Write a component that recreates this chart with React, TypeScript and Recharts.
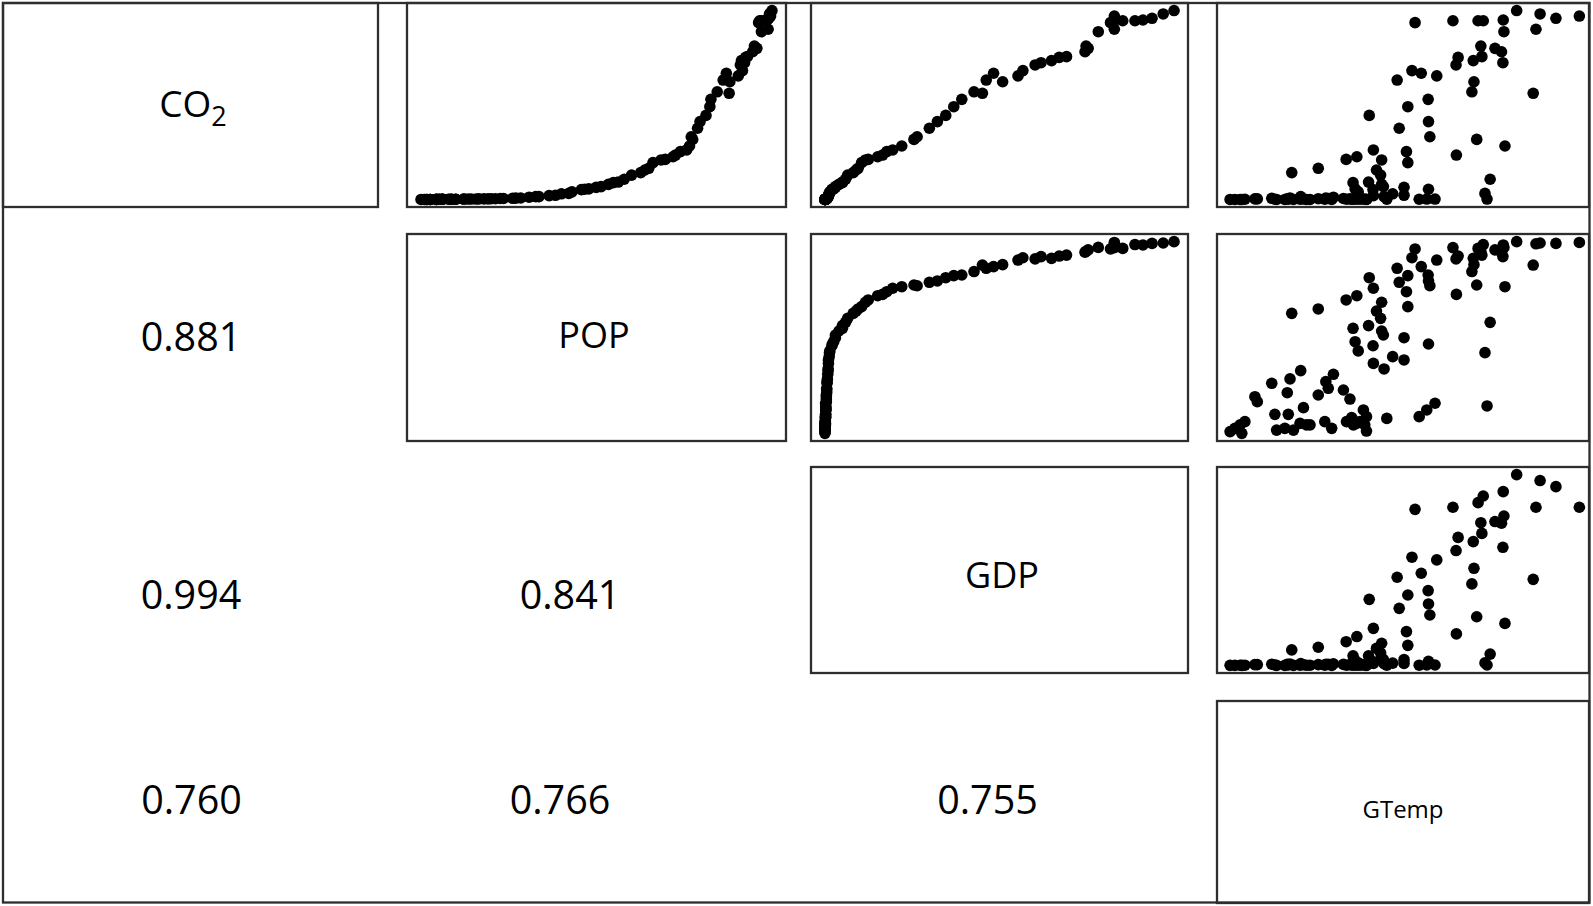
import React from 'react';
import { ScatterChart, Scatter, XAxis, YAxis } from 'recharts';

// each variable scaled 0-100 (its min to its max), observations ordered by POP
const pop = [
  0, 0.9, 1.2, 1.7, 1.7, 2.6, 2.6, 2.6, 4.4, 4.4,
  4.4, 4.4, 4.4, 5.2, 5.2, 6.1, 6.1, 6.1, 6.1, 7.8,
  8.2, 8.7, 8.7, 9.9, 9.9, 12.2, 12.2, 13.4, 14.3, 15.7,
  16.5, 17.9, 19.1, 20.0, 21.2, 22.6, 23.5, 26.1, 27.0, 28.4,
  30.8, 32.7, 33.6, 36.5, 38.3, 40.0, 42.1, 43.0, 45.7, 46.6,
  47.8, 49.9, 51.3, 53.4, 54.8, 56.2, 57.9, 60.0, 62.6, 63.8,
  64.9, 66.1, 68.4, 69.6, 71.8, 72.5, 73.9, 75.7, 76.5, 77.0,
  77.4, 78.8, 79.5, 81.2, 82.3, 82.6, 84.4, 86.1, 87.0, 87.8,
  88.0, 90.4, 91.0, 91.3, 91.6, 92.2, 92.5, 93.0, 94.5, 95.0,
  95.7, 96.2, 96.5, 96.9, 97.0, 98.3, 98.5, 98.9, 99.1, 99.3,
  99.6, 100,
];

const gtemp = [
  3.2, -0.2, 39.4, 13.3, 18.2, 1.2, 15.7, 29.3, 2.7, 22.0,
  23.0, 38.9, 35.6, 20.1, 36.5, 4.1, 27.3, 33.6, 37.5, 45.3,
  35.1, 54.7, 39.4, 12.8, 16.7, 56.9, 38.5, 21.1, 74.4, 59.3,
  7.7, 34.6, 7.0, 25.4, 16.4, 32.7, 28.3, 11.9, 27.6, 17.2,
  29.8, 20.3, 44.5, 41.4, 50.3, 47.0, 73.8, 37.0, 41.3, 57.4,
  36.1, 50.3, 44.3, 43.8, 35.5, 40.0, 75.3, 43.5, 17.7, 42.3,
  25.4, 51.4, 43.8, 33.5, 36.6, 65.5, 51.0, 41.4, 79.6, 57.8,
  71.4, 48.9, 57.4, 40.2, 51.4, 57.3, 70.0, 48.3, 55.3, 87.8,
  70.6, 59.8, 65.4, 70.4, 52.6, 79.0, 66.0, 72.9, 78.6, 72.6,
  76.7, 53.5, 71.8, 64.5, 79.3, 79.1, 73.3, 88.6, 94.4, 89.8,
  101.2, 83.0,
];

const co2 = [
  0, 0, 0, 0, 0, 0, 0, 0, 0, 0,
  0, 0.1, 0.1, 0.1, 0.1, 0.1, 0.1, 0.1, 0.1, 0.1,
  0.1, 0.1, 0.1, 0.1, 0.1, 0.2, 0.2, 0.2, 0.2, 0.2,
  0.3, 0.3, 0.3, 0.4, 0.4, 0.5, 0.5, 0.6, 0.7, 0.8,
  1.2, 1.5, 1.5, 2.0, 2.2, 3.0, 3.2, 4.0, 5.2, 5.4,
  5.6, 6.4, 6.8, 8.0, 8.9, 9.2, 10.7, 12.9, 14.2, 15.6,
  16.5, 19.5, 20.9, 21.2, 22.6, 23.5, 25.3, 26.2, 28.3, 33.2,
  31.8, 37.7, 41.2, 44.5, 49.1, 53.0, 57.0, 63.2, 66.8, 56.2,
  62.3, 65.4, 71.2, 73.5, 68.2, 72.4, 75.2, 75.6, 78.2, 81.2,
  80.0, 93.6, 94.6, 94.6, 88.8, 95.0, 94.6, 90.1, 95.9, 98.2,
  97.1, 100,
];

const gdp = [
  0, 0, 0, 0, 0, 0, 0, 0, 0.1, 0.1,
  0.1, 0.1, 0.1, 0.1, 0.1, 0.1, 0.1, 0.1, 0.1, 0.1,
  0.2, 0.1, 0.2, 0.2, 0.2, 0.2, 0.3, 0.3, 0.2, 0.2,
  0.4, 0.4, 0.4, 0.4, 0.5, 0.5, 0.5, 0.6, 0.6, 0.7,
  0.8, 0.9, 0.9, 1.0, 1.0, 1.2, 1.3, 1.4, 2.0, 2.1,
  2.5, 3.0, 3.0, 4.0, 5.0, 5.0, 5.9, 6.5, 8.1, 8.9,
  9.5, 10.5, 11.6, 12.4, 15.1, 16.5, 17.7, 19.4, 22.0, 26.4,
  25.5, 29.9, 32.2, 34.6, 36.9, 39.2, 42.7, 46.2, 48.3, 45.1,
  50.9, 55.3, 60.2, 64.9, 56.7, 61.9, 67.1, 69.2, 74.5, 74.8,
  75.4, 81.8, 85.3, 82.9, 78.3, 91.1, 88.8, 82.9, 93.7, 96.9,
  82.9, 100,
];

const variables = [co2, pop, gdp, gtemp];

// correlations shown in the lower triangle: [row, col, text]
const correlations: [number, number, string][] = [
  [1, 0, '0.881'],
  [2, 0, '0.994'],
  [2, 1, '0.841'],
  [3, 0, '0.760'],
  [3, 1, '0.766'],
  [3, 2, '0.755'],
];

// panel edges in page pixels
const COLS = [[3, 378], [407, 786], [811, 1188], [1217, 1589]];
const ROWS = [[3, 207], [234, 441], [467, 673], [701, 903]];
const DOMAIN: [number, number] = [-4, 104];
const LINE = '#2e2e2e';
const FONT = "'Open Sans', sans-serif";

// where the correlation numbers sit (text centre x, baseline y)
const corrPos: Record<string, [number, number]> = {
  '1-0': [191, 351],
  '2-0': [191, 609],
  '2-1': [570, 609],
  '3-0': [191.5, 814],
  '3-1': [560, 814],
  '3-2': [987.5, 814],
};

const Dot = (props: any) => <circle cx={props.cx} cy={props.cy} r={5.8} fill="#000" />;

function Panel({ row, col }: { row: number; col: number }) {
  const [left, right] = COLS[col];
  const [top, bottom] = ROWS[row];
  const w = right - left;
  const h = bottom - top;
  const xs = variables[col];
  const ys = variables[row];
  const data = xs.map((x, i) => ({ x, y: ys[i] }));

  return (
    <div style={{ position: 'absolute', left, top, width: w, height: h }}>
      <ScatterChart width={w} height={h} margin={{ top: 0, right: 0, bottom: 0, left: 0 }}>
        <XAxis type="number" dataKey="x" domain={DOMAIN} allowDataOverflow hide />
        <YAxis type="number" dataKey="y" domain={DOMAIN} allowDataOverflow hide />
        <Scatter data={data} shape={Dot} isAnimationActive={false} />
      </ScatterChart>
    </div>
  );
}

export default function App() {
  const boxes: React.ReactNode[] = [];
  const panels: React.ReactNode[] = [];
  for (let r = 0; r < 4; r++) {
    for (let c = r; c < 4; c++) {
      const [l, rt] = COLS[c];
      const [t, b] = ROWS[r];
      boxes.push(
        <rect key={`b${r}${c}`} x={l} y={t} width={rt - l} height={b - t}
          fill="none" stroke={LINE} strokeWidth={2.3} />
      );
      if (c > r) panels.push(<Panel key={`p${r}${c}`} row={r} col={c} />);
    }
  }

  return (
    <div style={{ position: 'absolute', left: 0, top: 0, width: 1593, height: 906, background: '#fff' }}>
      <svg width={1593} height={906} style={{ position: 'absolute', left: 0, top: 0 }}>
        <rect x={3} y={3} width={1586.5} height={899.5} fill="none" stroke={LINE} strokeWidth={2.3} />
        {boxes}
        <g fontFamily={FONT} fill="#000" textAnchor="middle">
          <text x={193} y={117} fontSize={37}>
            CO<tspan fontSize={27} dy={9}>2</tspan>
          </text>
          <text x={594} y={348} fontSize={36}>POP</text>
          <text x={1002} y={588} fontSize={36}>GDP</text>
          <text x={1403} y={818} fontSize={24}>GTemp</text>
          {correlations.map(([r, c, txt]) => {
            const [x, y] = corrPos[`${r}-${c}`];
            return <text key={`${r}-${c}`} x={x} y={y} fontSize={39.5}>{txt}</text>;
          })}
        </g>
      </svg>
      {panels}
    </div>
  );
}
